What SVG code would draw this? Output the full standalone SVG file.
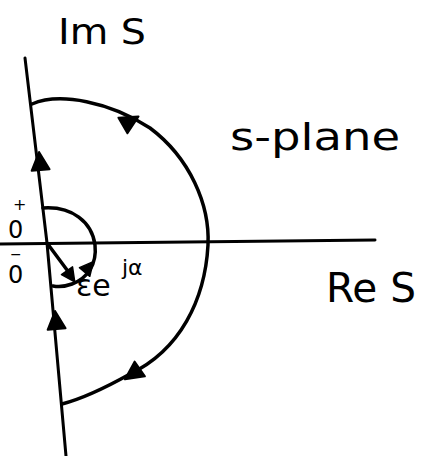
<svg xmlns="http://www.w3.org/2000/svg" width="431" height="456" viewBox="0 0 431 456">
<style>
.ln{fill:none;stroke:#000;stroke-width:3.5;stroke-linecap:round;stroke-linejoin:round}
.ax{fill:none;stroke:#000;stroke-width:3;stroke-linecap:round}
.hd{fill:#000;stroke:#000;stroke-width:2;stroke-linejoin:round}
.t{font-family:"DejaVu Sans","Liberation Sans",sans-serif;fill:#000}
</style>
<defs>
<polygon id="tri" points="0,-11 9,7 -9,7"/>
</defs>
<rect width="431" height="456" fill="#fff"/>
<g id="connectors">
<path id="im-axis" class="ax" d="M25 58 L47 243 L66 456"/>
<path id="re-axis" class="ax" d="M0 244 L375 240"/>
<path id="big-arc" class="ln" d="M32 104 C60 92 110 102 150 128 C190 158 210 205 208 245 C205 300 180 350 130 374 C105 388 85 398 62 404"/>
<path id="small-arc" class="ln" d="M43 208 C72 206 92 222 95 245 C97 264 88 278 72 284 C64 287 58 287 53 286"/>
<path id="radius" class="ln" d="M47 243 L70 274"/>
<g class="hd">
<use href="#tri" transform="translate(40,163) rotate(-5)"/>
<use href="#tri" transform="translate(56,322) rotate(-5)"/>
<use href="#tri" transform="translate(129,122) rotate(60)"/>
<use href="#tri" transform="translate(134,373) rotate(235)"/>
<use href="#tri" transform="translate(88,268) scale(0.75) rotate(40)"/>
<use href="#tri" transform="translate(70,275) scale(0.75) rotate(145)"/>
</g>
</g>
<g id="label-ims"><text class="t" x="58" y="44" font-size="36" textLength="88" lengthAdjust="spacingAndGlyphs">Im S</text></g>
<g id="label-splane"><text class="t" x="230" y="150" font-size="38" textLength="170" lengthAdjust="spacingAndGlyphs">s-plane</text></g>
<g id="label-res"><text class="t" x="326" y="302" font-size="40" textLength="90" lengthAdjust="spacingAndGlyphs">Re S</text></g>
<g id="label-0plus"><text class="t" x="8" y="238" font-size="24">0</text><text class="t" x="13" y="210" font-size="16">+</text></g>
<g id="label-0minus"><text class="t" x="8" y="283" font-size="24">0</text><text class="t" x="10" y="259" font-size="14">−</text></g>
<g id="label-eps"><text class="t" x="76" y="296" font-size="30">εe</text><text class="t" x="122" y="275" font-size="22">jα</text></g>
</svg>
